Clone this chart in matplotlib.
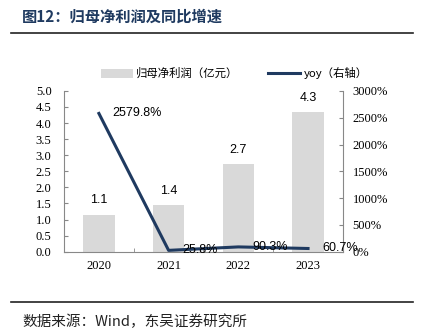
import matplotlib
matplotlib.use("Agg")
import matplotlib.pyplot as plt
from matplotlib.patches import Patch
from matplotlib.lines import Line2D

years = ["2020", "2021", "2022", "2023"]
profit = [1.15, 1.44, 2.72, 4.33]
profit_labels = ["1.1", "1.4", "2.7", "4.3"]
yoy = [2579.8, 25.8, 90.3, 60.7]
yoy_labels = ["2579.8%", "25.8%", "90.3%", "60.7%"]
left_ticks = [0.0, 0.5, 1.0, 1.5, 2.0, 2.5, 3.0, 3.5, 4.0, 4.5, 5.0]
right_ticks = [0, 500, 1000, 1500, 2000, 2500, 3000]

CJK = ["Noto Sans CJK SC", "DejaVu Sans"]
SERIF = "Liberation Serif"
SANS = "Liberation Sans"
NAVY = "#1F3A60"
BAR = "#D9D9D9"
AXC = "#888888"

fig = plt.figure(figsize=(4.27, 3.33), dpi=100)
ax = fig.add_axes([0.150, 0.244, 0.653, 0.483])
x = list(range(len(years)))
ax.bar(x, profit, width=0.45, color=BAR, zorder=1)
ax.set_xlim(-0.5, 3.5)
ax.set_ylim(0, 5)
ax.set_yticks(left_ticks)
ax.set_yticklabels([f"{t:.1f}" for t in left_ticks], fontfamily=SERIF, fontsize=9)
ax.set_xticks(x)
ax.set_xticklabels(years, fontfamily=SERIF, fontsize=9)
ax.set_xticks([0.5, 1.5, 2.5], minor=True)
ax.tick_params(axis="x", which="major", length=0, pad=6)
ax.tick_params(axis="x", which="minor", length=3, direction="in", color=AXC)
ax.tick_params(axis="y", length=3, direction="in", color=AXC, pad=9)
for s in ["top", "right"]:
    ax.spines[s].set_visible(False)
for s in ["left", "bottom"]:
    ax.spines[s].set_color(AXC)
    ax.spines[s].set_linewidth(0.8)
for xi, v, lab in zip(x, profit, profit_labels):
    ax.annotate(lab, (xi, v), xytext=(0, 6), textcoords="offset points",
                ha="center", va="bottom", fontfamily=SANS, fontsize=9)

ax2 = ax.twinx()
ax2.plot(x, yoy, color=NAVY, linewidth=2.2, zorder=3)
ax2.set_ylim(0, 3000)
ax2.set_yticks(right_ticks)
ax2.set_yticklabels([f"{t}%" for t in right_ticks], fontfamily=SERIF, fontsize=9)
ax2.tick_params(axis="y", length=3, direction="in", color=AXC, pad=7)
for s in ["top", "left", "bottom"]:
    ax2.spines[s].set_visible(False)
ax2.spines["right"].set_color(AXC)
ax2.spines["right"].set_linewidth(0.8)
for xi, v, lab in zip(x, yoy, yoy_labels):
    ax2.annotate(lab, (xi, v), xytext=(10, 0), textcoords="offset points",
                 ha="left", va="center", fontfamily=SANS, fontsize=9)

handles = [Patch(facecolor=BAR, edgecolor="none"),
           Line2D([0], [0], color=NAVY, linewidth=2.2)]
labels = ["归母净利润（亿元）", "yoy（右轴）"]
leg = fig.legend(handles, labels, loc="center left", bbox_to_anchor=(0.212, 0.780),
                 ncol=2, frameon=False, prop={"family": CJK, "size": 8.2},
                 handlelength=2.8, handleheight=0.9, columnspacing=2.6,
                 handletextpad=0.3, borderpad=0.4)

fig.text(0.052, 0.950, "图12：归母净利润及同比增速", fontfamily=CJK, fontsize=11,
         fontweight="bold", color=NAVY, ha="left", va="center")
fig.add_artist(Line2D([0.026, 0.968], [0.902, 0.902], color="#222222", linewidth=1.2))
fig.add_artist(Line2D([0.026, 0.968], [0.093, 0.093], color="#222222", linewidth=1.2))
fig.text(0.052, 0.033, "数据来源：Wind，东吴证券研究所", fontfamily=CJK, fontsize=10.5,
         color="#222222", ha="left", va="center")

fig.savefig("out.png", dpi=100)
